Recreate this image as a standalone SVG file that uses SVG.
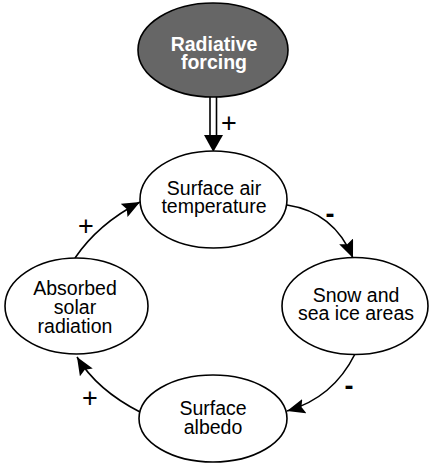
<svg xmlns="http://www.w3.org/2000/svg" width="433" height="468" viewBox="0 0 433 468">
<style>
.node{fill:#fff;stroke:#000;stroke-width:1.6}
.dark{fill:#666;stroke:#000;stroke-width:1.6}
.t{font-family:"Liberation Sans",Arial,sans-serif;font-size:19.5px;text-anchor:middle;fill:#000}
.tw{font-family:"Liberation Sans",Arial,sans-serif;font-size:19.5px;font-weight:bold;text-anchor:middle;fill:#fff}
.sign{font-family:"Liberation Sans",Arial,sans-serif;font-size:27px;text-anchor:middle;fill:#000}
.minus{font-family:"Liberation Sans",Arial,sans-serif;font-size:27px;font-weight:bold;text-anchor:middle;fill:#000}
.c{fill:none;stroke:#000;stroke-width:1.6}
</style>
<defs>
<marker id="ah" markerUnits="userSpaceOnUse" markerWidth="20" markerHeight="16" refX="18" refY="7.5" orient="auto">
<path d="M0,0 L18,7.5 L0,15 L3,7.5 Z" fill="#000"/>
</marker>
</defs>
<g id="connectors">
<line x1="210" y1="97" x2="210" y2="136" stroke="#000" stroke-width="1.6"/>
<line x1="216.5" y1="97" x2="216.5" y2="136" stroke="#000" stroke-width="1.6"/>
<polygon points="204,135 223,135 213.3,152" fill="#000"/>
<path class="c" d="M287,205 Q334,212 353,258" marker-end="url(#ah)"/>
<path class="c" d="M355,354 Q333,398 287,411" marker-end="url(#ah)"/>
<path class="c" d="M140,412 Q97,390 77,357" marker-end="url(#ah)"/>
<path class="c" d="M75,258 Q98,224 140,202" marker-end="url(#ah)"/>
<text class="sign" x="229" y="131.5">+</text>
<text class="minus" x="330" y="222.5">-</text>
<text class="minus" x="349" y="394.5">-</text>
<text class="sign" x="90" y="407">+</text>
<text class="sign" x="86" y="234.5">+</text>
</g>
<g id="radiative-forcing">
<ellipse class="dark" cx="213" cy="50" rx="75" ry="47"/>
<text class="tw" x="214" y="51">Radiative</text>
<text class="tw" x="214" y="69">forcing</text>
</g>
<g id="surface-air-temperature">
<ellipse class="node" cx="213.5" cy="199.5" rx="73.5" ry="48.5"/>
<text class="t" x="214" y="195">Surface air</text>
<text class="t" x="214" y="213">temperature</text>
</g>
<g id="snow-sea-ice">
<ellipse class="node" cx="355" cy="306" rx="73" ry="48.5"/>
<text class="t" x="356" y="302">Snow and</text>
<text class="t" x="356" y="320">sea ice areas</text>
</g>
<g id="surface-albedo">
<ellipse class="node" cx="213" cy="418.5" rx="74" ry="43.5"/>
<text class="t" x="213" y="415">Surface</text>
<text class="t" x="213" y="434">albedo</text>
</g>
<g id="absorbed-solar">
<ellipse class="node" cx="76.5" cy="306" rx="71.5" ry="48"/>
<text class="t" x="75" y="295">Absorbed</text>
<text class="t" x="75" y="314">solar</text>
<text class="t" x="75" y="333">radiation</text>
</g>
</svg>
